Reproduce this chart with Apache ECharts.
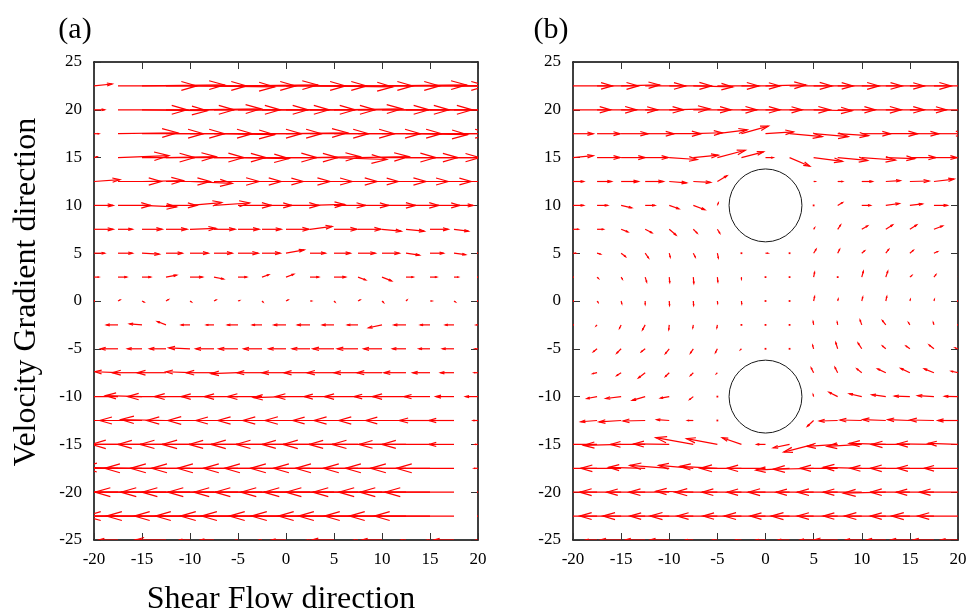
<!DOCTYPE html>
<html><head><meta charset="utf-8">
<script src="https://cdn.jsdelivr.net/npm/echarts@6/dist/echarts.min.js"></script>
<style>html,body{margin:0;padding:0;background:#fff}#c{width:970px;height:614px}</style>
</head><body><div id="c"></div><script>
// grid columns (x) and rows (y) of the vector field
const xCols = [-20,-17.5,-15,-12.5,-10,-7.5,-5,-2.5,0,2.5,5,7.5,10,12.5,15,17.5,20];
const yRows = [22.5,20,17.5,15,12.5,10,7.5,5,2.5,0,-2.5,-5,-7.5,-10,-12.5,-15,-17.5,-20,-22.5,-25];
const xTicks = [-20,-15,-10,-5,0,5,10,15,20];
const yTicks = [-25,-20,-15,-10,-5,0,5,10,15,20,25];

// panel (a): x-components per row
const aU = [
 [1.9,8.2,8.6,8.4,8.8,8.5,8.3,8.7,8.4,8.6,8.2,8.5,8.8,8.4,8.6,8.3,0.3],
 [1.1,7.2,6.8,7.1,7.4,6.9,7.3,7.0,7.2,6.8,7.1,7.4,7.0,6.9,7.2,7.0,0.3],
 [0.5,6.2,6.4,6.1,6.5,6.3,6.6,6.2,6.4,6.1,6.3,6.5,6.2,6.4,6.3,6.2,0.3],
 [0.3,5.3,5.5,5.2,5.6,5.4,5.3,5.7,5.4,5.2,5.5,5.3,5.6,5.4,5.2,5.4,0.2],
 [2.7,4.5,4.3,4.6,4.4,4.7,4.5,4.3,4.6,4.4,4.5,4.2,4.6,4.4,4.3,4.5,0.2],
 [2.0,3.4,3.6,3.2,3.3,3.7,3.5,3.1,3.4,3.6,3.3,3.2,3.5,3.4,3.1,2.0,0.2],
 [2.0,1.5,2.1,2.2,2.7,2.2,2.2,2.0,2.4,2.3,2.4,2.4,2.0,1.9,1.9,1.5,0.2],
 [1.1,1.5,1.8,1.7,1.9,1.9,2.1,1.9,1.9,1.6,1.7,1.8,1.8,1.4,1.4,1.2,0.1],
 [0.5,0.9,0.9,1.1,1.3,1.0,0.9,0.7,0.8,0.9,1.2,0.8,1.0,0.75,0.7,0.45,0.1],
 [0.05,0.2,0.2,0.25,0.15,0.2,0.15,0.1,0.2,0.15,0.1,0.2,0.15,0.1,0.2,0.15,0.05],
 [-0.3,-1.2,-1.3,-0.9,-0.9,-0.8,-1.1,-1.0,-1.25,-1.3,-1.2,-1.1,-1.4,-1.25,-1.0,-0.9,-0.2],
 [-0.5,-1.8,-1.5,-1.7,-2.2,-1.9,-2.0,-1.9,-1.8,-1.85,-2.2,-2.15,-1.9,-1.4,-1.15,-1.2,-0.3],
 [-1.0,-2.4,-3.1,-3.0,-2.5,-2.9,-2.8,-2.6,-2.5,-2.7,-2.8,-2.5,-2.6,-2.3,-1.8,-1.4,-0.4],
 [-1.5,-3.6,-3.8,-4.0,-3.7,-3.4,-3.5,-3.6,-3.4,-3.6,-3.1,-3.5,-2.9,-3.5,-2.7,-1.9,-1.3],
 [-2.0,-4.6,-4.4,-4.7,-4.5,-4.8,-4.4,-4.6,-4.5,-4.7,-4.3,-4.6,-4.5,-4.2,-3.2,-2.6,-0.5],
 [-2.5,-5.1,-5.3,-5.0,-5.2,-5.4,-5.1,-5.3,-5.2,-5.0,-5.3,-5.1,-5.2,-4.9,-5.0,-2.6,-0.3],
 [-3.0,-6.1,-6.3,-6.4,-6.2,-6.5,-6.3,-6.1,-6.4,-6.2,-6.3,-6.5,-6.1,-6.3,-6.2,-6.0,-0.4],
 [-3.5,-7.3,-7.1,-7.4,-7.2,-7.5,-7.3,-7.1,-7.4,-7.2,-7.3,-7.5,-7.2,-7.0,-7.3,-7.2,0],
 [-4.0,-8.5,-8.8,-8.4,-8.7,-8.3,-8.6,-8.5,-8.8,-8.4,-8.6,-8.3,-8.7,-8.5,-8.4,-8.3,0],
 [-1.0,-2.0,-0.7,-3.2,-1.1,-1.4,-0.2,-0.3,-1.5,-0.3,-2.3,-0.4,-2.1,-0.5,-0.3,-2.1,-0.2]
];
// panel (a): y-components per row
const aV = [
 [0.2,0,0.1,0,-0.1,0,0.1,0,0,-0.1,0,0,0.1,0,0,0,0],
 [0,0,-0.1,0,0.1,0,0,0,0,0,0.1,0,0,0,0,0,0],
 [0,0.1,0,0,0,-0.1,0,0,0.1,0,0,0,0,-0.1,0,0,0],
 [0.1,0.2,0,0.1,0,0,-0.1,0,0,0.1,-0.2,0.1,0,0,0,0,0],
 [0.2,0,0.1,0,-0.2,0,0,0,0,0,0,0,0,0,0,0,0],
 [0,0,-0.15,0,0.3,0.25,0,0,0,0.1,0,0,0,0,0,0,0],
 [0,0,0,0,0.1,0,0,0,0,0.3,0,0,-0.2,-0.2,0,-0.2,0],
 [0,0,-0.1,0,0,0,0,0,0.35,0,0,0,0,-0.2,0,-0.15,0],
 [0,0,0,0.2,0,-0.2,0,0.25,0.3,0,0,-0.3,-0.4,0,0,0,0],
 [0,0.1,-0.1,0.15,-0.1,0.1,0.05,-0.1,0.1,0,-0.1,0.1,-0.15,0.1,0,-0.1,0],
 [0,0,0.1,0.35,0,0,0,0,0,0,0,0,-0.3,0,0,0,0],
 [0,0,0,0,0.1,0,0,0,0,0,0,0,0,0,0,0,0],
 [0,0.1,0,0,0.1,0,-0.1,0,0,0,0,0,0,0,0,0,0],
 [0,0,0.1,0,0,0,0,0,-0.1,0,0,0,0,0,0,0,0],
 [0,0,0,0.1,0,0,0,0,0,0,0,0,0,0,0,0,0],
 [0,0,0,0,0,0,0,0,0,0,0,0,0,0,0,0,0],
 [0,0,0.1,0,0,0,0,0,0,0,0,0,0,0,0,0,0],
 [0,0,0,0,0,0,0,0,0,0,0,0,0,0,0,0,0],
 [0,0,0,0,0,0,0,0,0,0,0,0,0,0,0,0,0],
 [0,0,0,0,0,0,0,0,0,0,0,0,0,0,0,0,0]
];
// panel (b): x-components per row (null = inside obstacle)
const bU = [
 [4.1,4.3,4.0,4.2,4.4,4.1,4.3,4.0,4.2,4.4,4.1,4.3,4.2,4.0,4.3,4.1,4.0],
 [3.9,4.1,3.8,4.0,4.2,3.9,4.1,4.0,3.8,4.2,4.0,3.9,4.1,4.0,3.8,4.0,3.9],
 [2.1,2.4,2.8,3.0,3.3,3.0,3.1,2.8,2.9,3.4,3.6,3.2,3.0,3.3,3.0,3.2,3.0],
 [2.1,2.4,2.5,2.4,2.9,2.6,2.9,2.3,0.8,2.1,3.0,3.1,3.5,3.0,2.7,2.4,2.2],
 [1.1,1.5,1.8,1.9,1.8,1.8,1.0,null,null,null,0.15,0.5,1.1,1.5,2.0,2.1,2.0],
 [1.1,1.1,1.1,1.0,1.0,1.2,0.1,null,null,null,0.05,0.5,0.9,1.4,1.3,1.4,1.2],
 [0.55,0.65,0.7,0.7,0.7,0.4,0.25,null,null,null,0.1,0.3,0.6,0.7,0.7,0.9,0.8],
 [0.3,0.35,0.45,0.35,0.1,0.2,0.1,0.05,0.25,0.1,0.25,0.2,0.3,0.3,0.35,0.38,0.3],
 [0.1,0.15,0.12,0.15,0.05,0.05,0.05,0,0.05,0.05,0.1,0.03,0.17,0.2,0.2,0.2,0.1],
 [0.05,0.1,0.07,0,0.03,0.03,0.03,0.03,0,0.05,0.1,0.05,0.1,0.1,0.05,0.05,0],
 [-0.1,-0.1,-0.17,-0.28,-0.05,-0.05,-0.05,0,0,0,-0.05,-0.05,-0.17,-0.35,-0.15,-0.07,-0.1],
 [-0.3,-0.38,-0.45,-0.4,-0.4,-0.3,-0.2,-0.1,0.05,0.03,-0.1,-0.2,-0.38,-0.35,-0.4,-0.5,-0.3],
 [-0.6,-0.45,-0.45,-0.7,-0.4,-0.3,-0.1,null,null,null,-0.25,-0.28,-0.5,-0.85,-0.95,-1.0,-0.7],
 [-1.0,-1.05,-1.6,-1.35,-0.9,-0.38,0,null,null,null,-0.05,-0.9,-1.3,-1.45,-1.6,-1.7,-1.4],
 [-1.6,-1.7,-2.3,-2.3,-1.3,-0.6,-0.1,null,null,null,-0.65,-1.9,-2.25,-2.4,-2.3,-2.5,-2.1],
 [-3.0,-3.9,-3.9,-3.6,-3.7,-3.9,-3.2,-2.0,-0.9,-1.7,-3.1,-3.2,-3.6,-3.8,-4.0,-3.8,-3.1],
 [-3.0,-4.0,-4.2,-3.8,-4.1,-3.6,-3.9,-4.3,-4.0,-3.5,-4.2,-3.9,-4.0,-3.7,-4.1,-3.8,-3.5],
 [-4.0,-4.1,-4.3,-4.0,-4.2,-3.9,-4.4,-4.1,-4.0,-4.3,-3.9,-4.2,-4.0,-4.4,-4.1,-3.9,-4.0],
 [-4.2,-4.0,-4.3,-4.4,-4.1,-4.5,-4.2,-4.0,-4.3,-4.1,-4.4,-4.2,-4.0,-4.3,-4.1,-4.4,-4.2],
 [-1.5,-1.2,-2.2,-2.1,-2.0,-0.8,-0.5,-0.6,-1.0,-1.2,-1.4,-2.5,-1.7,-2.0,-2.0,-2.2,-1.8]
];
// panel (b): y-components per row
const bV = [
 [0,0,0.1,0,0,-0.1,0,0,0.1,0,0,0,0,0,0,0,0],
 [0,0,0,0,0.1,0,0,0,0,0,-0.1,0,0,0,0,0,0],
 [0,0,0,0,0,0.1,0.4,0.8,0.2,-0.3,-0.3,-0.2,0,0,0,0,0],
 [0.2,0,0,0,-0.2,0.25,0.77,0.6,0,-0.9,-0.4,-0.3,-0.25,-0.1,0,0,0],
 [0,0,0,0,-0.15,-0.1,0.6,null,null,null,0,0,0,0.1,0.05,0.25,0.1],
 [0,0,-0.25,0,-0.35,-0.45,0.25,null,null,null,0,0.3,0,0.2,0.15,0,0],
 [0,0,-0.27,-0.37,-0.6,-0.4,-0.4,null,null,null,0.15,0.45,0.35,0.45,0.45,0.35,0.3],
 [0,-0.1,-0.35,-0.5,-0.4,-0.4,-0.5,0,0,0.05,0.4,0.4,0.25,0.4,0.3,0.17,0.1],
 [0,-0.15,-0.2,-0.5,-0.55,-0.65,-0.5,-0.2,0,0.05,0.5,0.1,0.6,0.6,0.17,0.25,0.1],
 [0,-0.13,-0.27,-0.35,-0.45,-0.45,-0.25,-0.3,0,0.1,0.45,0.2,0.4,0.45,0.15,0.15,0],
 [0,-0.1,-0.35,-0.52,-0.5,-0.3,-0.3,0,0,0,0.35,0.3,0.5,0.45,0.25,0.25,0],
 [-0.1,-0.3,-0.45,-0.3,-0.5,-0.45,-0.4,-0.1,0,0.05,0.35,0.65,0.6,0.3,0.3,0.4,0.1],
 [0,-0.1,-0.3,-0.55,-0.4,-0.3,-0.1,null,null,null,0.5,0.55,0.4,0.4,0.45,0.4,0.15],
 [0,-0.2,-0.2,-0.4,-0.15,-0.3,0,null,null,null,0.2,0.45,0.3,0.2,0.05,0.1,0.03],
 [0,-0.13,-0.15,-0.05,0.1,0,0.05,null,null,null,-0.6,-0.05,0.05,0.1,0.1,0.05,0],
 [0,0,-0.1,0,0.05,0.7,0.6,0.7,0,-0.35,-0.8,-0.2,-0.2,0.1,0,0.05,0.1],
 [0,0,0,0.1,0.3,0.3,0.2,0,0,-0.2,-0.1,0,0.1,0,0,0,0],
 [0,0,0,0,0,0.1,0,0,0,0,0,0,0,-0.1,0,0,0],
 [0,0,0,0,0,0,0,0,0,0,0,0,0,0,0,0,0],
 [0,0,0,0,0,0,0,0,0,0,0,0,0,0,0,0,0]
];
// obstacles in panel (b)
const circleX = [0, 0];
const circleY = [10, -10];
const circleR = 3.8;

function buildField(U, V) {
  const out = [];
  for (let i = 0; i < yRows.length; i++) {
    for (let j = 0; j < xCols.length; j++) {
      const u = U[i][j], v = V[i][j];
      if (u === null || v === null) continue;
      out.push([xCols[j], yRows[i], u, v]);
    }
  }
  return out;
}

const RED = '#ff0000';
function renderArrow(params, api) {
  const x = api.value(0), y = api.value(1), u = api.value(2), v = api.value(3);
  const p0 = api.coord([x, y]);
  const p1 = api.coord([x + u, y + v]);
  const dx = p1[0] - p0[0], dy = p1[1] - p0[1];
  const len = Math.sqrt(dx * dx + dy * dy);
  const style = { stroke: RED, lineWidth: 1.2, fill: null };
  if (len < 1.2) {
    return { type: 'rect', shape: { x: p0[0] - 0.9, y: p0[1] - 0.9, width: 1.8, height: 1.8 }, style: { fill: RED } };
  }
  const h = Math.min(16, 0.3 * len);
  const ang = Math.atan2(dy, dx);
  const s = 16 * Math.PI / 180;
  const a = [p1[0] - h * Math.cos(ang - s), p1[1] - h * Math.sin(ang - s)];
  const b = [p1[0] - h * Math.cos(ang + s), p1[1] - h * Math.sin(ang + s)];
  return {
    type: 'group',
    children: [
      { type: 'line', shape: { x1: p0[0], y1: p0[1], x2: p1[0], y2: p1[1] }, style: style },
      { type: 'polyline', shape: { points: [a, p1, b] }, style: style }
    ]
  };
}
function renderCircle(params, api) {
  const c = api.coord([api.value(0), api.value(1)]);
  const sz = api.size([api.value(2), api.value(2)]);
  const r = (sz[0] + sz[1]) / 2;
  return { type: 'circle', shape: { cx: c[0], cy: c[1], r: r }, style: { stroke: '#1a1a1a', lineWidth: 1, fill: null } };
}

const FONT = '"Liberation Serif","Times New Roman",serif';
function xAx(gi, top) {
  return {
    type: 'value', gridIndex: gi, position: top ? 'top' : 'bottom',
    min: -20, max: 20, interval: 5,
    axisLine: { show: true, onZero: false, lineStyle: { color: '#000', width: 1.5 } },
    axisTick: { show: true, inside: true, length: 7, lineStyle: { color: '#333', width: 1 } },
    axisLabel: { show: !top, color: '#000', fontFamily: FONT, fontSize: 17, margin: 11,
      formatter: function (v) { return xTicks.indexOf(v) >= 0 ? String(v) : ''; } },
    splitLine: { show: false }
  };
}
function yAx(gi, right) {
  return {
    type: 'value', gridIndex: gi, position: right ? 'right' : 'left',
    min: -25, max: 25, interval: 5,
    axisLine: { show: true, onZero: false, lineStyle: { color: '#000', width: 1.5 } },
    axisTick: { show: true, inside: true, length: 7, lineStyle: { color: '#333', width: 1 } },
    axisLabel: { show: !right, color: '#000', fontFamily: FONT, fontSize: 17, margin: 12,
      formatter: function (v) { return yTicks.indexOf(v) >= 0 ? String(v) : ''; } },
    splitLine: { show: false }
  };
}

const chart = echarts.init(document.getElementById('c'), null, { renderer: 'canvas' });
chart.setOption({
  animation: false,
  backgroundColor: '#fff',
  grid: [
    { left: 94, top: 62, width: 384, height: 478 },
    { left: 573, top: 62, width: 385, height: 478 }
  ],
  xAxis: [xAx(0, false), xAx(0, true), xAx(1, false), xAx(1, true)],
  yAxis: [yAx(0, false), yAx(0, true), yAx(1, false), yAx(1, true)],
  series: [
    { type: 'custom', xAxisIndex: 0, yAxisIndex: 0, clip: true, silent: true,
      renderItem: renderArrow, data: buildField(aU, aV), z: 3 },
    { type: 'custom', xAxisIndex: 2, yAxisIndex: 2, clip: true, silent: true,
      renderItem: renderArrow, data: buildField(bU, bV), z: 3 },
    { type: 'custom', xAxisIndex: 2, yAxisIndex: 2, silent: true,
      renderItem: renderCircle, data: circleX.map(function (cx, k) { return [cx, circleY[k], circleR]; }), z: 4 }
  ],
  graphic: [
    { type: 'text', x: 75, y: 30, style: { text: '(a)', font: '30px ' + FONT, fill: '#000', align: 'center', verticalAlign: 'middle', textAlign: 'center', textVerticalAlign: 'middle' } },
    { type: 'text', x: 551, y: 30, style: { text: '(b)', font: '30px ' + FONT, fill: '#000', align: 'center', verticalAlign: 'middle', textAlign: 'center', textVerticalAlign: 'middle' } },
    { type: 'text', x: 27, y: 292, rotation: Math.PI / 2, style: { text: 'Velocity Gradient direction', font: '32px ' + FONT, fill: '#000', align: 'center', verticalAlign: 'middle', textAlign: 'center', textVerticalAlign: 'middle' } },
    { type: 'text', x: 281, y: 600, style: { text: 'Shear Flow direction', font: '32px ' + FONT, fill: '#000', align: 'center', verticalAlign: 'middle', textAlign: 'center', textVerticalAlign: 'middle' } }
  ]
});
</script></body></html>
